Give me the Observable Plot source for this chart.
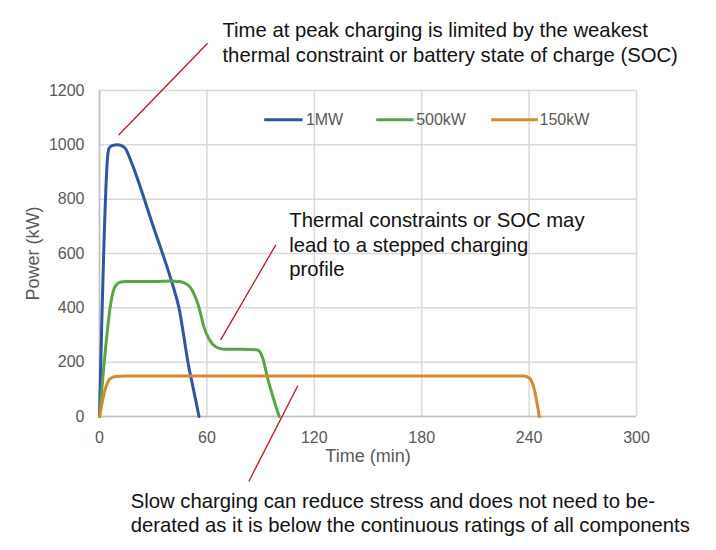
<!DOCTYPE html>
<html><head><meta charset="utf-8">
<script src="https://cdn.jsdelivr.net/npm/d3@7"></script>
<script src="https://cdn.jsdelivr.net/npm/@observablehq/plot@0.6"></script>
<style>body{margin:0;background:#fff;}</style>
</head><body><div id="chart"></div>
<script>
const xTicks = [0, 60, 120, 180, 240, 300];
const yTicks = [0, 200, 400, 600, 800, 1000, 1200];
const seriesNames = ["1MW", "500kW", "150kW"];
const seriesColors = ["#2f55a3", "#58a446", "#d68a2c"];

const time1MW  = [0, 4.6, 5.4, 7, 9.9, 12.5, 14.6, 17.4, 30, 39.7, 42, 44.4, 47, 49.4, 52.5, 55.6];
const power1MW = [0, 960, 988, 997, 1000, 996, 985, 943, 700, 510, 460, 400, 300, 200, 100, 0];

const time500  = [0, 3.4, 6.2, 8, 9.9, 12, 14.6, 30, 40, 44, 47.2, 50, 51.9, 53.8, 55.6, 58.4, 61.2, 64.9, 69.6, 80, 88.3, 91.1, 93.8, 100.4];
const power500 = [0, 252, 413, 468, 488, 495, 497, 497, 499, 497, 492, 480, 463, 435, 401, 328, 285, 257, 248, 248, 245, 217, 144, 0];

const time150  = [0, 3.4, 6.2, 9, 15, 120, 237, 240.3, 242.5, 245.7];
const power150 = [0, 105, 141, 147, 149, 149, 149, 141, 110, 0];

// legend entries (inside plot, in data units)
const legendX1 = [92, 154.6, 218.8];
const legendX2 = [113.4, 175.5, 244.9];
const legendTextX = [115.3, 176.9, 245.8];
const legendY = 1092;

// annotations
const annText = [
  "Time at peak charging is limited by the weakest\nthermal constraint or battery state of charge (SOC)",
  "Thermal constraints or SOC may\nlead to a stepped charging\nprofile",
  "Slow charging can reduce stress and does not need to be-\nderated as it is below the continuous ratings of all components"
];
const annX = [68.7, 106, 17.4];
const annY = [1305, 518, -424];
const annLineHeight = [1.22, 1.19, 1.17];

const leaderX1 = [10.6, 67.7, 110.8];
const leaderY1 = [1035, 282, 113];
const leaderX2 = [60.4, 98.5, 83.4];
const leaderY2 = [1374, 632, -239];

const rows = [];
[[time1MW, power1MW], [time500, power500], [time150, power150]].forEach(([ts, ps], k) => {
  ts.forEach((t, i) => rows.push({series: seriesNames[k], t, p: ps[i]}));
});
const legend = seriesNames.map((s, i) => ({s, x1: legendX1[i], x2: legendX2[i], tx: legendTextX[i], y: legendY}));
const anns = annText.map((s, i) => ({s, x: annX[i], y: annY[i], lh: annLineHeight[i]}));
const leaders = leaderX1.map((x, i) => ({x1: x, y1: leaderY1[i], x2: leaderX2[i], y2: leaderY2[i]}));

const font = "'Liberation Sans', Arial, sans-serif";

const chart = Plot.plot({
  width: 716, height: 550,
  marginLeft: 99, marginRight: 80, marginTop: 90, marginBottom: 134,
  style: {fontFamily: font, color: "#595959", background: "#fff"},
  x: {domain: [0, 300]},
  y: {domain: [0, 1200]},
  color: {domain: seriesNames, range: seriesColors},
  marks: [
    Plot.gridX(xTicks, {stroke: "#d9d9d9", strokeOpacity: 1, strokeWidth: 1.5}),
    Plot.gridY(yTicks, {stroke: "#d9d9d9", strokeOpacity: 1, strokeWidth: 1.5}),
    Plot.ruleY([0], {stroke: "#bfbfbf", strokeWidth: 1.5}),
    Plot.ruleX([0], {stroke: "#bfbfbf", strokeWidth: 1.5}),
    Plot.axisX({ticks: xTicks, tickSize: 0, tickPadding: 15, fontSize: 16, label: null, tickFormat: d => String(d)}),
    Plot.axisY({ticks: yTicks, tickSize: 0, tickPadding: 15, fontSize: 16, label: null, tickFormat: d => String(d)}),
    Plot.text(["Power (kW)"], {text: d => d, frameAnchor: "left", textAnchor: "middle", lineAnchor: "middle", dx: -66, rotate: -90, fontSize: 18, fill: "#595959"}),
    Plot.text(["Time (min)"], {text: d => d, frameAnchor: "bottom", textAnchor: "middle", lineAnchor: "middle", dy: 40, fontSize: 18, fill: "#595959"}),
    Plot.line(rows, {x: "t", y: "p", z: "series", stroke: "series", strokeWidth: 3, curve: "monotone-x"}),
    Plot.link(legend, {x1: "x1", x2: "x2", y1: "y", y2: "y", stroke: "s", strokeWidth: 3}),
    Plot.text(legend, {x: "tx", y: "y", text: "s", textAnchor: "start", fontSize: 16, fill: "#595959"}),
    Plot.link(leaders, {x1: "x1", y1: "y1", x2: "x2", y2: "y2", stroke: "#c0161b", strokeWidth: 1.3}),
    ...anns.map(a => Plot.text([a], {x: "x", y: "y", text: "s", textAnchor: "start", lineAnchor: "bottom", lineHeight: a.lh, fontSize: 20.3, fill: "#111"}))
  ]
});
document.getElementById("chart").appendChild(chart);
</script>
</body></html>
